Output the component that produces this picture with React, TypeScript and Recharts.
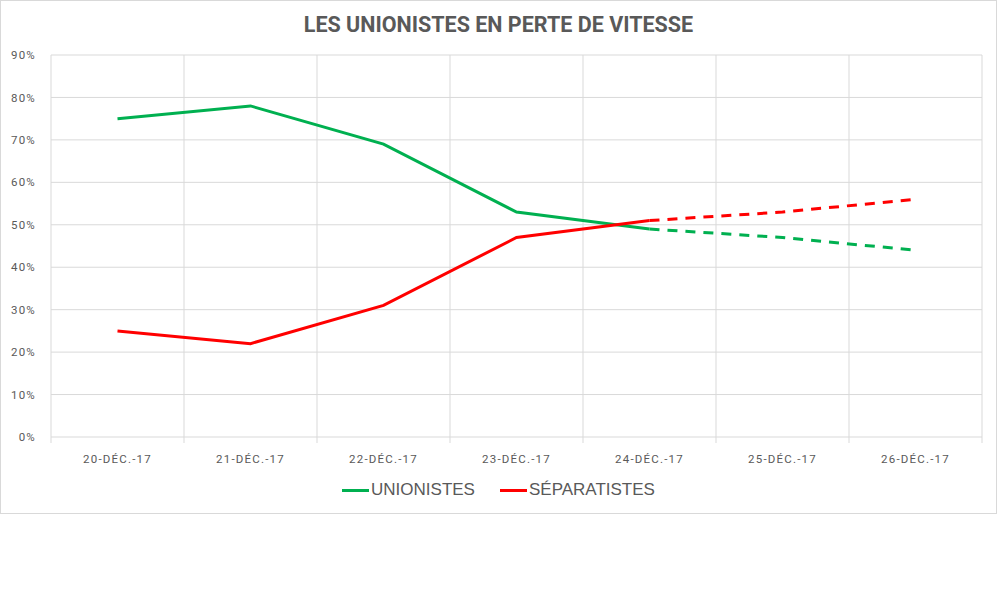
import { LineChart, Line, XAxis, YAxis, CartesianGrid, Legend } from "recharts";

const dates = ["20-DÉC.-17", "21-DÉC.-17", "22-DÉC.-17", "23-DÉC.-17", "24-DÉC.-17", "25-DÉC.-17", "26-DÉC.-17"];
// measured values up to the 24th, projection after
const unionistes = [75, 78, 69, 53, 49, null, null];
const unionistesProj = [null, null, null, null, 49, 47, 44];
const separatistes = [25, 22, 31, 47, 51, null, null];
const separatistesProj = [null, null, null, null, 51, 53, 56];
const yTicks = [0, 10, 20, 30, 40, 50, 60, 70, 80, 90];
// category boundaries, for the vertical grid
const boundaries = [0, 1, 2, 3, 4, 5, 6, 7];
const legendOrder = ["UNIONISTES", "SÉPARATISTES"];

const GREEN = "#00b050";
const RED = "#ff0000";
const GREY = "#595959";
const GRID = "#d9d9d9";

const data = dates.map((d, i) => ({
  date: d,
  unionistes: unionistes[i],
  unionistesProj: unionistesProj[i],
  separatistes: separatistes[i],
  separatistesProj: separatistesProj[i],
}));

const tickStyle = { fontFamily: "Roboto", fontSize: 11.5, fill: GREY, letterSpacing: 1.2 };

// category label plus small tick marks on the band edges (Excel style)
function DateTick({ x, y, payload, index }: any) {
  const half = payload?.offset;
  const top = y - 18;
  return (
    <g>
      {typeof half === "number" && (
        <line x1={x - half} x2={x - half} y1={top} y2={top + 6} stroke={GRID} />
      )}
      {typeof half === "number" && index === dates.length - 1 && (
        <line x1={x + half} x2={x + half} y1={top} y2={top + 6} stroke={GRID} />
      )}
      <text x={x} y={y} dy="0.71em" textAnchor="middle" {...tickStyle}>
        {payload.value}
      </text>
    </g>
  );
}

function LegendContent({ payload }: any) {
  const items = (payload || [])
    .filter((p: any) => p.type !== "none")
    .sort((a: any, b: any) => legendOrder.indexOf(a.value) - legendOrder.indexOf(b.value));
  return (
    <div style={{ display: "flex", justifyContent: "center", alignItems: "center", height: 24, gap: 25 }}>
      {items.map((p: any) => (
        <div key={p.value} style={{ display: "flex", alignItems: "center" }}>
          <span style={{ display: "inline-block", width: 27, height: 3, background: p.color, marginRight: 2 }} />
          <span style={{ fontFamily: "Liberation Sans", fontSize: 17, color: GREY }}>{p.value}</span>
        </div>
      ))}
    </div>
  );
}

// vertical grid on the category boundaries of the plot area
const gridX = ({ offset }: any) => {
  if (!offset || typeof offset.left !== "number") return [];
  return boundaries.map((b) => offset.left + (offset.width * b) / dates.length);
};

export default function App() {
  return (
    <div style={{ position: "relative", width: 997, height: 514, boxSizing: "border-box", border: `1px solid ${GRID}`, background: "#fff" }}>
      <style>{"body{margin:0}"}</style>
      <div
        style={{
          position: "absolute",
          top: 11,
          left: -1,
          width: 997,
          textAlign: "center",
          fontFamily: "Roboto",
          fontWeight: 700,
          fontSize: 21.5,
          color: GREY,
        }}
      >
        LES UNIONISTES EN PERTE DE VITESSE
      </div>
      <div style={{ position: "absolute", top: -1, left: -1 }}>
        <LineChart width={997} height={514} data={data} margin={{ top: 55, right: 15, left: 0, bottom: 23 }}>
          <CartesianGrid stroke={GRID} verticalCoordinatesGenerator={gridX} />
          <XAxis
            dataKey="date"
            scale="band"
            height={30}
            axisLine={false}
            tickLine={false}
            tick={<DateTick />}
            tickMargin={12}
            interval={0}
          />
          <YAxis
            width={51}
            domain={[0, 90]}
            ticks={yTicks}
            tickFormatter={(v) => `${v}%`}
            axisLine={false}
            tickLine={false}
            tick={tickStyle}
            tickMargin={9}
          />
          <Legend verticalAlign="bottom" content={<LegendContent />} wrapperStyle={{ top: 478, left: 0, width: 997 }} />
          <Line name="UNIONISTES" dataKey="unionistes" stroke={GREEN} strokeWidth={3} dot={false} isAnimationActive={false} />
          <Line name="SÉPARATISTES" dataKey="separatistes" stroke={RED} strokeWidth={3} dot={false} isAnimationActive={false} />
          <Line dataKey="unionistesProj" stroke={GREEN} strokeWidth={3} strokeDasharray="10 8" dot={false} legendType="none" isAnimationActive={false} />
          <Line dataKey="separatistesProj" stroke={RED} strokeWidth={3} strokeDasharray="10 8" dot={false} legendType="none" isAnimationActive={false} />
        </LineChart>
      </div>
    </div>
  );
}
